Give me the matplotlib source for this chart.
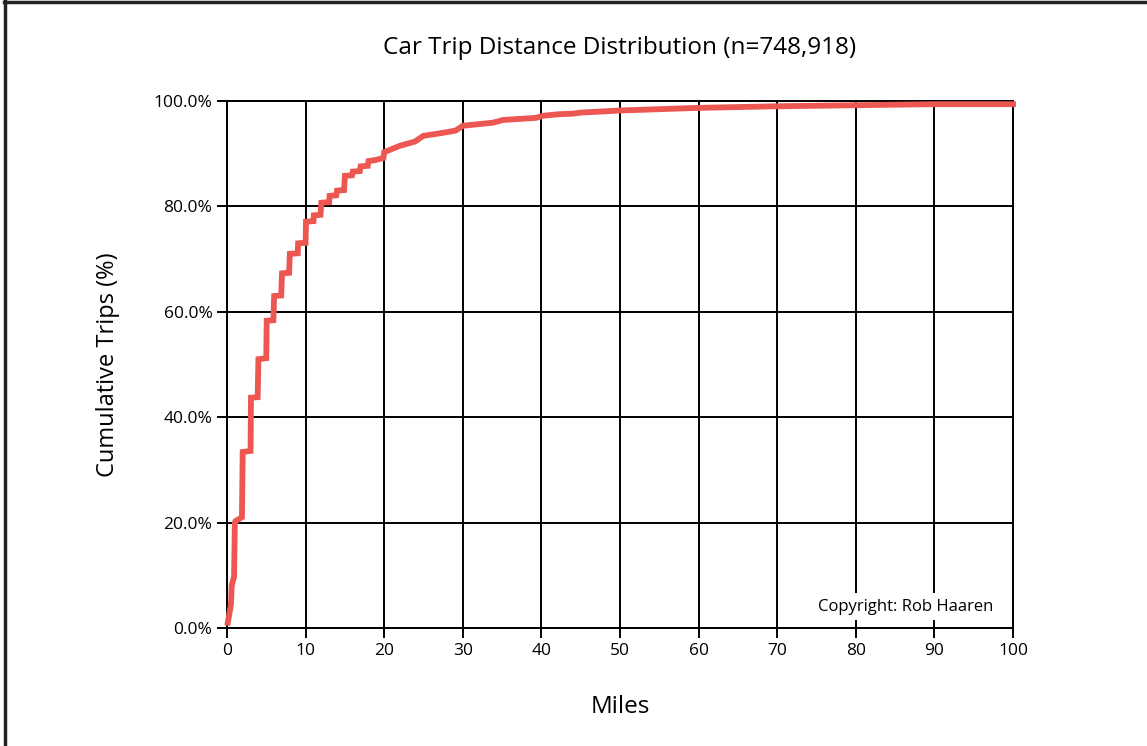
import matplotlib
matplotlib.use('Agg')
import matplotlib.pyplot as plt
from matplotlib.ticker import FuncFormatter

plt.rcParams['font.family'] = ['Open Sans', 'DejaVu Sans']

# cumulative share of car trips by distance
miles = [0.1, 0.5, 0.6, 0.9, 1.0, 1.1, 1.9, 2.0, 3.0, 3.05, 3.9, 4.0, 5.0, 5.05,
         5.9, 6.0, 6.9, 7.0, 7.9, 8.0, 9.0, 9.05, 10.0, 10.05, 11.0, 11.05,
         11.9, 12.0, 13.0, 13.05, 13.9, 14.0, 14.9, 15.0, 15.9, 16.0, 16.9, 17.0,
         17.9, 18.0, 18.9, 19.9, 20.0, 22.0, 23.9, 25.0, 27.2, 28.0, 29.1, 30.0,
         33.9, 35.1, 39.3, 40.2, 42.3, 44.0, 45.0, 50.0, 60.0, 70.0, 80.0, 90.0, 100.0]
cum_pct = [1.0, 4.4, 8.0, 9.8, 20.0, 20.3, 21.0, 33.4, 33.6, 43.7, 43.8, 51.0, 51.2, 58.3,
           58.4, 63.0, 63.1, 67.3, 67.4, 71.0, 71.1, 73.0, 73.1, 77.1, 77.2, 78.3,
           78.4, 80.7, 80.8, 82.0, 82.1, 83.0, 83.1, 85.8, 85.9, 86.6, 86.7, 87.6,
           87.7, 88.6, 88.8, 89.2, 90.3, 91.5, 92.3, 93.4, 93.9, 94.1, 94.4, 95.3,
           95.9, 96.4, 96.8, 97.2, 97.5, 97.6, 97.8, 98.2, 98.7, 99.0, 99.2, 99.4, 99.4]

x_ticks = list(range(0, 101, 10))
y_ticks = [0, 20, 40, 60, 80, 100]

fig = plt.figure(figsize=(11.47, 7.46), dpi=100)
ax = fig.add_axes([0.1979, 0.1582, 0.6853, 0.7064])

ax.plot(miles, cum_pct, color='#ec5752', lw=4.2, solid_joinstyle='miter', zorder=3, clip_on=False)

ax.set_xlim(0, 100)
ax.set_ylim(0, 100)
ax.set_xticks(x_ticks)
ax.set_yticks(y_ticks)
ax.yaxis.set_major_formatter(FuncFormatter(lambda v, p: '{:.1f}%'.format(v)))
ax.grid(True, color='black', lw=1.4)
ax.set_axisbelow(True)
for s in ax.spines.values():
    s.set_color('black')
    s.set_linewidth(1.4)
ax.tick_params(direction='out', length=7.5, width=1.4, labelsize=12.5, pad=3, colors='black')

ax.set_xlabel('Miles', fontsize=17.5, labelpad=26)
ax.set_ylabel('Cumulative Trips (%)', fontsize=17, labelpad=24)
ax.set_title('Car Trip Distance Distribution (n=748,918)', fontsize=17.5, pad=34)

ax.text(97.5, 4.0, 'Copyright: Rob Haaren', fontsize=12, ha='right', va='center', zorder=4,
        bbox=dict(facecolor='white', edgecolor='none', pad=4))

# border on the left and top edges of the picture
fig.add_artist(plt.Line2D([0.0045, 0.0045], [0, 0.998], color='#222222', lw=2.5))
fig.add_artist(plt.Line2D([0.0035, 1], [0.997, 0.997], color='#222222', lw=2.5))

fig.savefig('out.png', dpi=100)
